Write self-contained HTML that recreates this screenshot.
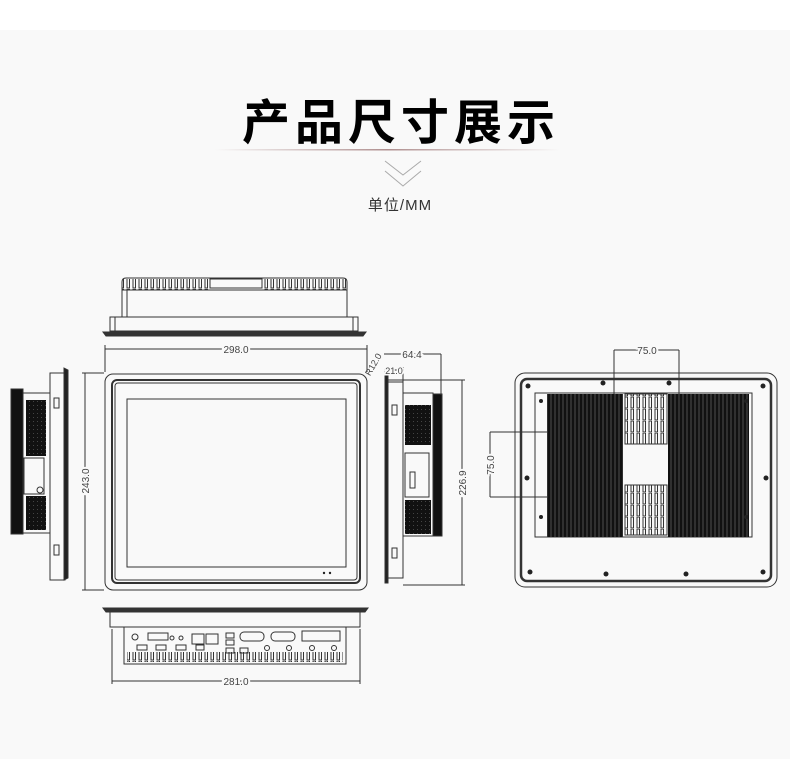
<!DOCTYPE html>
<html><head><meta charset="utf-8"><style>
html,body{margin:0;padding:0;background:#f9f9f9;}
body{width:790px;height:759px;position:relative;overflow:hidden;font-family:"Liberation Sans","Noto Sans CJK SC",sans-serif;}
.top{position:absolute;left:0;top:0;width:790px;height:30px;background:#fff;}
.title{position:absolute;left:6px;width:790px;top:88px;text-align:center;font-size:48px;font-weight:bold;letter-spacing:5px;color:#000;font-family:"Noto Sans CJK SC",sans-serif;line-height:60px;}
.unit{position:absolute;left:0;width:800px;top:194px;text-align:center;font-size:15px;color:#333;letter-spacing:1px;}
svg{position:absolute;left:0;top:0;}
</style></head><body>
<div class="top"></div>
<div class="title">产品尺寸展示</div>
<div class="unit">单位/MM</div>
<svg width="790" height="759" viewBox="0 0 790 759">
<defs>
<linearGradient id="hl" x1="0" x2="1"><stop offset="0" stop-color="#f9f9f9"/><stop offset="0.5" stop-color="#b09090"/><stop offset="1" stop-color="#f9f9f9"/></linearGradient>
<pattern id="fin" width="6" height="12" patternUnits="userSpaceOnUse"><rect x="1" y="1" width="2.5" height="11" fill="none" stroke="#333" stroke-width="1"/></pattern>
<pattern id="grill" width="4" height="4" patternUnits="userSpaceOnUse"><rect width="4" height="4" fill="#111"/><rect x="1" y="1" width="1" height="1" fill="#444"/></pattern>
<pattern id="vf" width="4" height="10" patternUnits="userSpaceOnUse"><rect width="4" height="10" fill="#111"/><line x1="3" y1="0" x2="3" y2="10" stroke="#777" stroke-width="0.6"/></pattern>
</defs>
<rect x="215" y="149" width="345" height="1.5" fill="url(#hl)"/>
<polyline points="385,161 403,175 421,161" fill="none" stroke="#aaa" stroke-width="1"/>
<polyline points="385,171 403,186 421,171" fill="none" stroke="#aaa" stroke-width="1"/>

<g fill="none" stroke="#333" stroke-width="1">
<path d="M122,317 V282 Q122,278 126,278 H343 Q347,278 347,282 V317"/>
<rect x="122" y="279" width="88" height="11" fill="url(#fin)" stroke="none"/>
<rect x="262" y="279" width="85" height="11" fill="url(#fin)" stroke="none"/>
<rect x="210" y="279" width="52" height="9"/>
<line x1="122" y1="290" x2="347" y2="290"/>
<line x1="127" y1="290" x2="127" y2="317"/>
<rect x="110" y="317" width="248" height="14"/>
<line x1="115" y1="317" x2="115" y2="331"/><line x1="353" y1="317" x2="353" y2="331"/>
<path d="M103,332 H366 L363,336 H106 Z" fill="#333"/>

<line x1="105" y1="349" x2="367" y2="349"/>
<line x1="105" y1="345" x2="105" y2="372"/><line x1="367" y1="345" x2="367" y2="372"/>
<line x1="85" y1="373" x2="85" y2="590"/>
<line x1="82" y1="373" x2="104" y2="373"/><line x1="82" y1="590" x2="104" y2="590"/>
<rect x="105" y="374" width="262" height="216" rx="8"/>
<rect x="112" y="380" width="248" height="203" rx="5" stroke-width="2"/>
<rect x="115" y="383" width="242" height="197" rx="3"/>
<rect x="127" y="399" width="219" height="168"/>
<rect x="11" y="389" width="12" height="145" fill="#111"/>
<rect x="23" y="393" width="27" height="140"/>
<rect x="26" y="400" width="20" height="56" fill="url(#grill)" stroke="none"/>
<rect x="26" y="496" width="20" height="34" fill="url(#grill)" stroke="none"/>
<rect x="24" y="458" width="20" height="36"/>
<circle cx="40" cy="490" r="3"/>
<rect x="50" y="373" width="15" height="207"/>
<path d="M64,368 V580 L68,578 V370 Z" fill="#222"/>
<rect x="54" y="398" width="5" height="10"/><rect x="54" y="545" width="5" height="10"/>
<path d="M385,372 V583 L388,583 V372 Z" fill="#222"/>
<rect x="388" y="382" width="15" height="196"/>
<rect x="403" y="393" width="30" height="143"/>
<rect x="433" y="394" width="9" height="142" fill="#111"/>
<rect x="405" y="405" width="26" height="40" fill="url(#grill)" stroke="none"/>
<rect x="405" y="500" width="26" height="34" fill="url(#grill)" stroke="none"/>
<rect x="405" y="453" width="24" height="44"/>
<rect x="410" y="472" width="5" height="16"/>
<rect x="392" y="405" width="5" height="10"/><rect x="392" y="548" width="5" height="10"/>
<line x1="384" y1="354" x2="441" y2="354"/><line x1="441" y1="354" x2="441" y2="395"/>
<line x1="384" y1="370" x2="404" y2="370"/><line x1="403" y1="367" x2="403" y2="392"/>
<line x1="388" y1="380" x2="465" y2="380"/><line x1="403" y1="585" x2="465" y2="585"/>
<line x1="462" y1="380" x2="462" y2="585"/>
<rect x="515" y="373" width="262" height="214" rx="10"/>
<rect x="521" y="379" width="250" height="202" rx="6" stroke-width="2.5"/>
<rect x="535" y="393" width="217" height="144"/>
<rect x="547" y="394" width="76" height="143" fill="url(#vf)" stroke="none"/>
<rect x="668" y="394" width="81" height="143" fill="url(#vf)" stroke="none"/>
<rect x="625" y="394" width="42" height="50" fill="url(#fin)"/>
<rect x="625" y="485" width="42" height="50" fill="url(#fin)"/>
<line x1="614" y1="350" x2="614" y2="394"/><line x1="679" y1="350" x2="679" y2="394"/>
<line x1="614" y1="350" x2="679" y2="350"/>
<line x1="490" y1="432" x2="490" y2="497"/>
<line x1="490" y1="432" x2="547" y2="432"/><line x1="490" y1="497" x2="547" y2="497"/>
<path d="M103,608 H368 L365,612 H106 Z" fill="#333"/>
<rect x="110" y="612" width="250" height="15"/>
<rect x="124" y="627" width="222" height="37"/>
<rect x="127" y="652" width="216" height="10" fill="url(#fin)" stroke="none"/>
<rect x="148" y="633" width="20" height="7"/><rect x="192" y="634" width="12" height="10"/><rect x="206" y="634" width="12" height="10"/>
<rect x="226" y="633" width="8" height="5"/><rect x="226" y="640" width="8" height="5"/>
<rect x="240" y="632" width="24" height="9" rx="4"/><rect x="271" y="632" width="24" height="9" rx="4"/>
<rect x="302" y="631" width="38" height="10"/>
<rect x="137" y="645" width="10" height="5"/><rect x="156" y="645" width="10" height="5"/><rect x="176" y="645" width="10" height="5"/><rect x="196" y="645" width="8" height="5"/><rect x="226" y="648" width="8" height="5"/><rect x="240" y="648" width="8" height="5"/>
<circle cx="267" cy="648" r="2.5"/><circle cx="289" cy="648" r="2.5"/><circle cx="312" cy="648" r="2.5"/><circle cx="334" cy="648" r="2.5"/>
<circle cx="135" cy="637" r="3"/><circle cx="172" cy="638" r="2"/><circle cx="181" cy="638" r="2"/>
<line x1="112" y1="629" x2="112" y2="684"/><line x1="360" y1="629" x2="360" y2="684"/>
<line x1="112" y1="681" x2="360" y2="681"/>
</g>
<g fill="#222">
<circle cx="541" cy="401" r="2"/><circle cx="746" cy="401" r="2"/><circle cx="541" cy="517" r="2"/><circle cx="746" cy="517" r="2"/>
<circle cx="528" cy="386" r="2.5"/><circle cx="763" cy="386" r="2.5"/><circle cx="603" cy="383" r="2.5"/><circle cx="669" cy="383" r="2.5"/>
<circle cx="527" cy="478" r="2.5"/><circle cx="766" cy="478" r="2.5"/><circle cx="530" cy="572" r="2.5"/><circle cx="763" cy="572" r="2.5"/>
<circle cx="606" cy="574" r="2.5"/><circle cx="686" cy="574" r="2.5"/>
<circle cx="324" cy="573" r="1.2"/><circle cx="330" cy="573" r="1.2"/>
</g>
<g font-family="Liberation Sans, sans-serif" font-size="10" fill="#444" text-anchor="middle" stroke="#f9f9f9" stroke-width="4" style="paint-order:stroke">
<text x="236" y="353">298.0</text>
<text x="647" y="354">75.0</text>
<text x="412" y="358">64.4</text>
<text x="394" y="374" font-size="9" stroke-width="3">21.0</text>
<text x="236" y="685">281.0</text>
<text transform="translate(89,481) rotate(-90)">243.0</text>
<text transform="translate(466,483) rotate(-90)">226.9</text>
<text transform="translate(494,465) rotate(-90)">75.0</text>
<text transform="translate(376,366) rotate(-60)" font-size="9" stroke="none">R12.0</text>
</g>
</svg>
</body></html>
